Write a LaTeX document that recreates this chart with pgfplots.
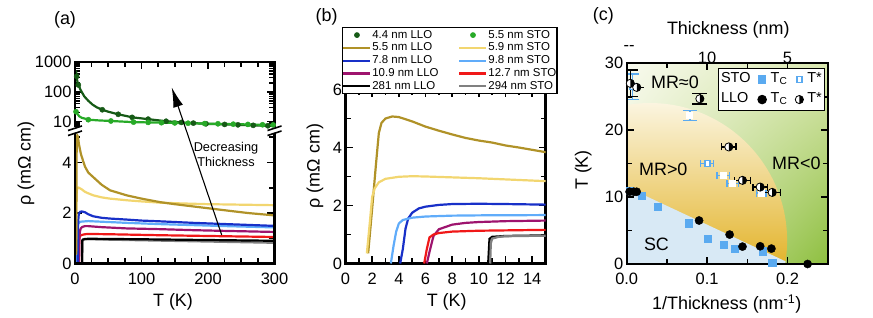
\documentclass[border=0pt]{standalone}
\usepackage{pgfplots}
\pgfplotsset{compat=1.18}
\usepackage{pgfplotstable}
\usepackage{fontspec}
\setmainfont{Liberation Sans}
\usetikzlibrary{arrows.meta,shadings}
\definecolor{dkgreen}{HTML}{165A16}
\definecolor{ltgreen}{HTML}{28AA28}
\definecolor{cgold}{HTML}{B09228}
\definecolor{ltgold}{HTML}{F2D670}
\definecolor{cblue}{HTML}{1830C8}
\definecolor{ltblue}{HTML}{60ACFA}
\definecolor{cmag}{HTML}{9E146E}
\definecolor{cred}{HTML}{F01818}
\definecolor{cgray}{HTML}{808080}
\definecolor{stoblue}{HTML}{5AAAF0}
\definecolor{scblue}{HTML}{D8E9F5}
\definecolor{grUL}{HTML}{F8FAEE}
\definecolor{grUR}{HTML}{D9E7B0}
\definecolor{grLL}{HTML}{E0ECC0}
\definecolor{grLR}{HTML}{8EBF40}
\definecolor{orB}{HTML}{E3B42C}
\definecolor{orM}{HTML}{E8BF40}
\definecolor{orT}{HTML}{FBF5E0}
\tikzset{lw/.style={line width=2.2bp}}

\pgfdeclareplotmark{halfsq}{%
  \pgfpathrectangle{\pgfpoint{-\pgfplotmarksize}{-\pgfplotmarksize}}{\pgfpoint{2\pgfplotmarksize}{2\pgfplotmarksize}}%
  \pgfusepath{fill}%
  \pgfsetfillcolor{white}%
  \pgfpathrectangle{\pgfpoint{-0.35\pgfplotmarksize}{-0.7\pgfplotmarksize}}{\pgfpoint{0.9\pgfplotmarksize}{1.4\pgfplotmarksize}}%
  \pgfusepath{fill}%
}
\pgfdeclareplotmark{halfcirc}{%
  \pgfsetfillcolor{white}%
  \pgfpathcircle{\pgfpointorigin}{\pgfplotmarksize}%
  \pgfusepath{fill}%
  \pgfsetfillcolor{black}%
  \pgfpathmoveto{\pgfpoint{0pt}{\pgfplotmarksize}}%
  \pgfpatharc{90}{-90}{\pgfplotmarksize}%
  \pgfpathclose
  \pgfusepath{fill}%
  \pgfpathcircle{\pgfpointorigin}{\pgfplotmarksize}%
  \pgfusepath{stroke}%
}

\pgfplotsset{
  base/.style={
    scale only axis, anchor=south west,
    axis line style={line width=2.3bp},
    every tick/.style={black, line width=1.6bp},
    major tick length=7bp, minor tick length=5bp,
    tick align=inside,
    tick label style={font=\fontsize{16.5}{16.5}\selectfont},
    xticklabel style={yshift=-6bp},
    /pgf/number format/assume math mode=true,
    /pgf/number format/1000 sep={},
  },
}

\pgfplotstableread{
T r
1.7 0.35
2.0 1.9
2.3 3.5
2.5 4.5
2.7 4.85
3.0 5.0
3.5 5.07
4.0 5.05
5 4.9
6 4.72
7 4.58
8 4.45
9 4.33
10 4.24
11 4.17
12 4.07
13 4.0
14 3.92
15 3.84
20 3.6
27.5 3.42
40 3.12
52.6 2.9
77.7 2.7
100 2.57
128 2.43
150 2.35
178 2.26
200 2.19
228 2.1
260 2.0
298 1.91
300 1.9
}\tGold

\pgfplotstableread{
T r
1.6 0.35
1.8 1.3
2.0 2.3
2.2 2.6
2.5 2.8
3 2.92
4 2.99
5 3.01
6 3.0
8 2.97
10 2.94
12 2.9
15 2.84
20 2.78
27.5 2.7
40 2.62
52.6 2.57
80 2.5
100 2.46
128 2.41
160 2.38
200 2.35
250 2.33
300 2.31
}\tLtGold

\pgfplotstableread{
T r
4.1 0
4.3 0.5
4.5 1.2
4.7 1.55
5 1.75
5.5 1.9
6 1.96
7 2.02
8 2.05
10 2.06
12 2.05
15 2.03
20 1.95
27.5 1.87
40 1.81
52.6 1.78
77.7 1.74
100 1.7
128 1.67
178 1.61
228 1.56
300 1.49
}\tBlue

\pgfplotstableread{
T r
3.4 0
3.6 0.6
3.8 1.1
4.0 1.38
4.3 1.5
5 1.58
6 1.62
8 1.65
10 1.66
15 1.67
20 1.68
27.5 1.67
77.7 1.61
128 1.56
178 1.52
228 1.48
300 1.43
}\tLtBlue

\pgfplotstableread{
T r
6.1 0
6.3 0.4
6.6 0.95
7 1.18
8 1.34
9 1.4
10 1.43
12 1.46
15 1.48
20 1.48
40 1.44
77.7 1.39
128 1.36
178 1.32
228 1.29
300 1.25
}\tMag

\pgfplotstableread{
T r
5.9 0
6.1 0.5
6.3 0.9
6.6 1.0
7 1.05
8 1.1
10 1.13
15 1.16
20 1.17
50 1.16
128 1.12
200 1.09
300 1.05
}\tRed

\pgfplotstableread{
T r
10.7 0
10.8 0.85
11 0.92
12 0.95
15 0.97
20 0.98
100 0.96
200 0.93
300 0.9
}\tBlack

\pgfplotstableread{
T r
10.85 0
10.9 0.7
11.0 0.86
11.5 0.92
12 0.94
15 0.96
20 0.96
100 0.92
200 0.87
300 0.82
}\tGray

\pgfplotstableread{
T r
1.5 520
2.2 360
3 260
4 200
5 170
6.5 147
8 120
10 100
14 70
20 50
26.5 37
33 30
41 25
50 21.5
65 17.6
86.5 13.9
110 12.1
137 10.3
160 9.4
178 8.9
200 8.4
228 8.0
260 7.6
288 7.25
300 7.15
}\tDkG

\pgfplotstableread{
T r
1.5 21.5
3 19
6.5 15
10 13.5
20.5 11.6
35 11
54 10.5
88 9.6
110 9.4
137 9.2
150 9.05
177 8.8
200 8.55
228 8.3
260 8.05
288 7.8
300 7.7
}\tLtG

\begin{document}
\begin{tikzpicture}
\useasboundingbox (0bp,0bp) rectangle (873bp,318bp);

% ---------------- (a) upper (log) ----------------
\begin{axis}[base, at={(75bp,191bp)}, width=199.5bp, height=65bp,
  xmin=0, xmax=300, ymode=log, ymin=6.6, ymax=1000,
  xtick={0,100,200,300}, minor xtick={25,50,75,125,150,175,225,250,275},
  xticklabels={}, xtick pos=right,
  ytick={10,100,1000}, yticklabels={10,100,1000},
  minor ytick={7,8,9,20,30,40,50,60,70,80,90,200,300,400,500,600,700,800,900},
  axis line style={draw=none}, clip=false]
\addplot[dkgreen, lw] table {\tDkG};
\addplot[ltgreen, lw] table {\tLtG};
\addplot[only marks, mark=*, mark size=2.6bp, dkgreen] coordinates {
(2.5,330)(5,170)(41,25)(65,17.6)(86,13.9)(110,12.1)(137,10.3)(160,9.4)(178,8.9)(197,8.45)(225,8.05)(245,7.8)(268,7.5)(290,7.25)};
\addplot[only marks, mark=*, mark size=2.6bp, ltgreen] coordinates {
(1.5,21.5)(20,11.6)(54,10.5)(88,9.6)(110,9.4)(130,9.2)(150,9.05)(170,8.85)(195,8.6)(215,8.45)(238,8.2)(260,8.05)(282,7.85)(298,7.75)};
\draw[line width=2.3bp] (rel axis cs:0,0) -- (rel axis cs:0,1) -- (rel axis cs:1,1) -- (rel axis cs:1,0);
\end{axis}

% ---------------- (a) lower ----------------
\begin{axis}[base, at={(75bp,54.5bp)}, width=199.5bp, height=130.5bp,
  xmin=0, xmax=300, ymin=0, ymax=5.17,
  xtick={0,100,200,300}, minor xtick={25,50,75,125,150,175,225,250,275},
  xtick pos=left,
  ytick={0,2,4}, minor ytick={1,3,5},
  axis line style={draw=none}, clip=false]
\addplot[cgray, lw] table {\tGray};
\addplot[black, lw] table {\tBlack};
\addplot[cred, lw] table {\tRed};
\addplot[cmag, lw] table {\tMag};
\addplot[ltblue, lw] table {\tLtBlue};
\addplot[cblue, lw] table {\tBlue};
\addplot[ltgold, lw] table {\tLtGold};
\addplot[cgold, lw] table {\tGold};
\draw[line width=2.3bp] (rel axis cs:0,1) -- (rel axis cs:0,0) -- (rel axis cs:1,0) -- (rel axis cs:1,1);
\end{axis}

% break marks
\foreach \xx in {75,274.5}{
  \draw[line width=1.6bp] ({(\xx-7)*1bp},187.5bp) -- ({(\xx+7)*1bp},192bp);
  \draw[line width=1.6bp] ({(\xx-7)*1bp},182.5bp) -- ({(\xx+7)*1bp},187bp);
}
% arrow
\draw[line width=1.1bp, -{Latex[length=20bp, width=10bp]}] (221.7bp,83bp) -- (171.7bp,230.7bp);
\node[font=\fontsize{12.8}{15.3}\selectfont, align=center, inner sep=1bp] at (226bp,163.5bp) {Decreasing\\Thickness};

\node[rotate=90, font=\fontsize{18}{18}\selectfont] at (26bp,154.5bp) {ρ (mΩ cm)};
\node[font=\fontsize{18}{18}\selectfont] at (173bp,16bp) {T (K)};
\node[font=\fontsize{18}{18}\selectfont] at (65bp,298bp) {(a)};

% ---------------- (b) ----------------
\begin{axis}[base, at={(345.5bp,54.5bp)}, width=200bp, height=174bp,
  xmin=0, xmax=15, ymin=0, ymax=6,
  xtick={0,2,...,14}, minor xtick={1,3,...,15},
  ytick={0,2,4,6}, minor ytick={1,3,5},
  legend columns=2,
  legend style={at={(-0.019,1.359)}, anchor=north west,
    draw=black, line width=1.3bp, fill=white,
    font=\fontsize{11.5}{11.5}\selectfont,
    inner xsep=0bp, inner ysep=1bp,
    nodes={inner sep=0.8bp, text height=8.6bp, text depth=2.6bp, anchor=west},
    /tikz/every even column/.append style={column sep=19bp}},
  legend image code/.code={\draw[mark repeat=2,mark phase=2,#1] plot coordinates {(0bp,0bp) (13.5bp,0bp) (27bp,0bp)};},
  legend cell align=left]
\addlegendimage{only marks, mark=*, mark size=2.2bp, dkgreen}
\addlegendentry{4.4 nm LLO}
\addlegendimage{only marks, mark=*, mark size=2.2bp, ltgreen}
\addlegendentry{5.5 nm STO}
\addplot[cgold, lw] table {\tGold};
\addlegendentry{5.5 nm LLO}
\addplot[ltgold, lw] table {\tLtGold};
\addlegendentry{5.9 nm STO}
\addplot[cblue, lw] table {\tBlue};
\addlegendentry{7.8 nm LLO}
\addplot[ltblue, lw] table {\tLtBlue};
\addlegendentry{9.8 nm STO}
\addplot[cmag, lw] table {\tMag};
\addlegendentry{10.9 nm LLO}
\addplot[cred, lw] table {\tRed};
\addlegendentry{12.7 nm STO}
\addplot[black, lw] table {\tBlack};
\addlegendentry{281 nm LLO}
\addplot[cgray, lw] table {\tGray};
\addlegendentry{294 nm STO}
\end{axis}
\node[rotate=90, font=\fontsize{18}{18}\selectfont] at (315bp,152bp) {ρ (mΩ cm)};
\node[font=\fontsize{18}{18}\selectfont] at (446.7bp,16bp) {T (K)};
\node[font=\fontsize{18}{18}\selectfont] at (326.7bp,301bp) {(b)};

% ---------------- (c) ----------------
\begin{axis}[base, at={(626.7bp,54bp)}, width=201bp, height=200.7bp,
  xmin=0, xmax=0.25, ymin=0, ymax=30,
  xtick={0,0.1,0.2}, xticklabels={0.0,0.1,0.2}, minor xtick={0.05,0.15},
  ytick={0,10,20,30}, minor ytick={5,15,25},
  axis on top,
  legend columns=3,
  legend style={at={(0.454,0.977)}, anchor=north west,
    draw=black, line width=1.3bp, fill=white,
    font=\fontsize{14.5}{14.5}\selectfont,
    inner xsep=1bp, inner ysep=1bp,
    nodes={inner sep=1.5bp, text height=11bp, text depth=6bp, anchor=west},
    /tikz/column 2/.style={column sep=6bp},
    /tikz/column 3/.style={column sep=3bp},
    /tikz/column 4/.style={column sep=6bp},
    /tikz/column 5/.style={column sep=2bp}},
  legend image code/.code={\draw[mark repeat=2,mark phase=2,#1] plot coordinates {(0bp,0bp) (8bp,0bp) (16bp,0bp)};},
  ]
% backgrounds
\shade[upper left=grUL, upper right=grUR, lower left=grLL, lower right=grLR] (axis cs:0,0) rectangle (axis cs:0.25,30);
\begin{scope}
  \clip (axis cs:0.0289,3.51) ellipse [x radius=0.1706, y radius=20.55];
  \shade[top color=orT, middle color=orM, bottom color=orB] (axis cs:0,0) rectangle (axis cs:0.25,24.1);
  \fill[scblue] (axis cs:0,0) -- (axis cs:0,11.5) -- (axis cs:0.2046,0) -- cycle;
\end{scope}
\node[font=\fontsize{18}{18}\selectfont] at (axis cs:0.06,27.2) {MR≈0};
\node[font=\fontsize{18}{18}\selectfont] at (axis cs:0.0455,14.2) {MR>0};
\node[font=\fontsize{18}{18}\selectfont] at (axis cs:0.211,15) {MR<0};
\node[font=\fontsize{18}{18}\selectfont] at (axis cs:0.037,3.0) {SC};

\addlegendimage{empty legend}
\addlegendentry{STO}
\addlegendimage{only marks, mark=square*, mark size=3.6bp, stoblue}
\addlegendentry{T\textsubscript{C}}
\addlegendimage{only marks, mark=halfsq, mark size=3.6bp, stoblue}
\addlegendentry{T*}
\addlegendimage{empty legend}
\addlegendentry{LLO}
\addlegendimage{only marks, mark=*, mark size=4.1bp, black}
\addlegendentry{T\textsubscript{C}}
\addlegendimage{only marks, mark=halfcirc, mark size=4.1bp, black, line width=0.8bp}
\addlegendentry{T*}

% STO Tc
\addplot[forget plot, only marks, mark=square*, mark size=3.6bp, stoblue] coordinates {
(0.0034,10.9)(0.0186,10.2)(0.039,8.6)(0.077,6.1)(0.101,3.75)(0.121,2.9)(0.134,2.25)(0.169,1.9)(0.181,0.25)};
% LLO Tc
\addplot[forget plot, only marks, mark=*, mark size=4.1bp, black] coordinates {
(0.0036,10.8)(0.0089,10.8)(0.0124,10.8)(0.09,6.5)(0.128,4.4)(0.144,2.6)(0.166,2.65)(0.18,2.3)(0.225,0.0)};
% STO T* (y errors)
\addplot[forget plot, only marks, mark=halfsq, mark size=3.6bp, stoblue,
  error bars/.cd, y dir=both, y explicit, error mark options={rotate=90, stoblue, mark size=7bp, line width=1.5bp},
  error bar style={line width=1.5bp}] coordinates {
(0.007,26.5) +- (0,1.9)
(0.0785,22.2) +- (0,0.75)};
% STO T* (x errors)
\addplot[forget plot, only marks, mark=halfsq, mark size=3.6bp, stoblue,
  error bars/.cd, x dir=both, x explicit, error mark options={rotate=90, stoblue, mark size=3.5bp, line width=1.5bp},
  error bar style={line width=1.5bp}] coordinates {
(0.1,15.0) +- (0.008,0)
(0.12,13.2) +- (0.008,0)
(0.132,12.0) +- (0.007,0)
(0.1675,10.6) +- (0.006,0)};
% LLO T* (y errors)
\addplot[forget plot, only marks, mark=halfcirc, mark size=4.1bp, black, line width=0.8bp,
  error bars/.cd, y dir=both, y explicit, error mark options={rotate=90, black, mark size=7.5bp, line width=1.5bp},
  error bar style={line width=1.5bp}] coordinates {
(0.0045,27.0) +- (0,2.0)
(0.0125,26.4) +- (0,0)
(0.091,24.7) +- (0,0.75)};
% LLO T* (x errors)
\addplot[forget plot, only marks, mark=halfcirc, mark size=4.1bp, black, line width=0.8bp,
  error bars/.cd, x dir=both, x explicit, error mark options={rotate=90, black, mark size=3.5bp, line width=1.5bp},
  error bar style={line width=1.5bp}] coordinates {
(0.127,17.5) +- (0.009,0)
(0.144,12.5) +- (0.01,0)
(0.166,11.5) +- (0.009,0)
(0.181,10.7) +- (0.01,0)};
\end{axis}
% top axis of (c)
\begin{axis}[base, at={(626.7bp,54bp)}, width=201bp, height=200.7bp,
  xmin=0, xmax=0.25, ymin=0, ymax=30,
  axis x line*=top, hide y axis, x axis line style={draw=none},
  xtick={0.1,0.2}, xticklabels={10,5},
  xticklabel style={yshift=2bp},
  major tick length=0bp, xtick style={draw=none}]
\end{axis}
\node[font=\fontsize{16.5}{16.5}\selectfont] at (629bp,270bp) {{-}{-}};
\node[rotate=90, font=\fontsize{18}{18}\selectfont] at (583.3bp,148bp) {T (K)};
\node[font=\fontsize{18}{18}\selectfont] at (726.7bp,14bp) {1/Thickness (nm\textsuperscript{-1})};
\node[font=\fontsize{18}{18}\selectfont] at (728.3bp,288bp) {Thickness (nm)};
\node[font=\fontsize{18}{18}\selectfont] at (603.3bp,302bp) {(c)};
\end{tikzpicture}
\end{document}
